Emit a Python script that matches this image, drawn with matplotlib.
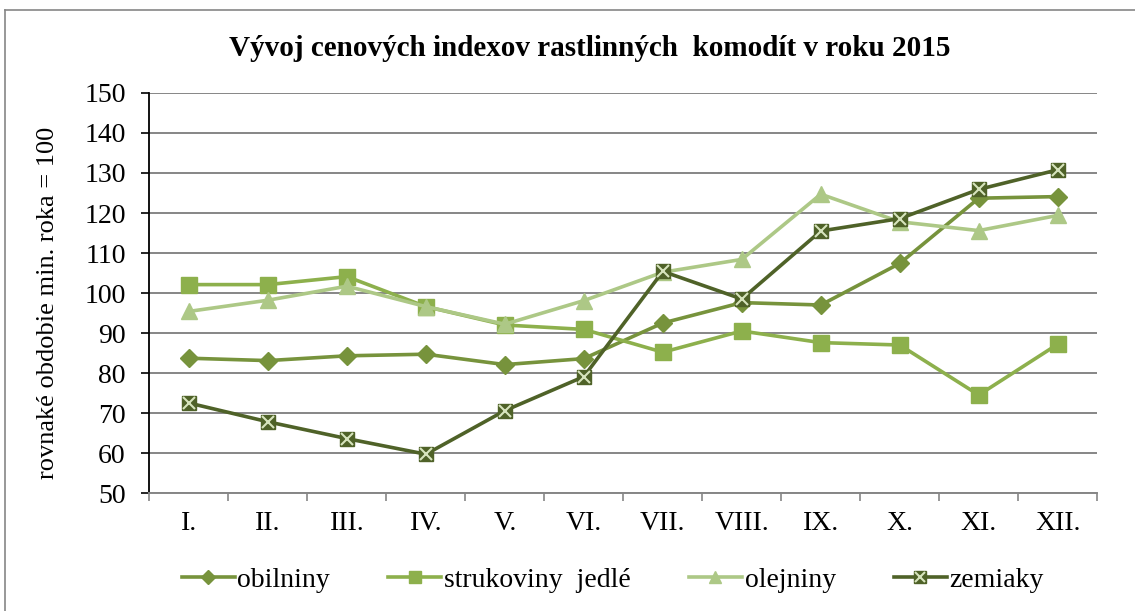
import matplotlib.pyplot as plt
from matplotlib.legend_handler import HandlerTuple
from matplotlib.lines import Line2D
import numpy as np

plt.rcParams['font.family'] = ['Liberation Serif', 'DejaVu Serif']

# Data
months = ['I.', 'II.', 'III.', 'IV.', 'V.', 'VI.', 'VII.', 'VIII.', 'IX.', 'X.', 'XI.', 'XII.']
obilniny = [83.7, 83.1, 84.3, 84.7, 82.1, 83.6, 92.5, 97.6, 97.0, 107.4, 123.7, 124.1]
strukoviny = [102.1, 102.1, 104.1, 96.6, 92.0, 90.9, 85.2, 90.5, 87.6, 87.0, 74.5, 87.2]
olejniny = [95.4, 98.2, 101.7, 96.6, 92.2, 98.1, 105.2, 108.4, 124.7, 117.8, 115.6, 119.4]
zemiaky = [72.5, 67.8, 63.6, 59.7, 70.6, 79.1, 105.4, 98.5, 115.5, 118.6, 125.9, 130.8]

c_obil = '#77933C'
c_struk = '#8DB04C'
c_olej = '#ADC886'
c_zem = '#4F6228'
c_x = '#D7E4BD'

x = np.arange(len(months))

fig = plt.figure(figsize=(11.35, 6.11), dpi=100)
ax = fig.add_axes([0.1317, 0.1931, 0.835, 0.6547])

l1, = ax.plot(x, obilniny, color=c_obil, lw=2.6, marker='D', ms=9, label='obilniny', zorder=3)
l2, = ax.plot(x, strukoviny, color=c_struk, lw=2.6, marker='s', ms=11, label='strukoviny  jedlé', zorder=3)
l3, = ax.plot(x, olejniny, color=c_olej, lw=2.6, marker='^', ms=11.5, label='olejniny', zorder=3)
l4, = ax.plot(x, zemiaky, color=c_zem, lw=2.6, marker='s', ms=10.5, label='zemiaky', zorder=4)
l4x, = ax.plot(x, zemiaky, color=c_x, lw=0, marker='x', ms=9, mew=1.5, zorder=5)

ax.set_xlim(-0.5, len(months) - 0.5)
ax.set_ylim(50, 150)
ax.set_yticks(np.arange(50, 151, 10))
ax.set_xticks(x)
ax.set_xticklabels(months)
ax.set_xticks(np.arange(-0.5, len(months)), minor=True)
ax.tick_params(axis='x', which='major', length=0, pad=13, labelsize=20)
ax.tick_params(axis='x', which='minor', length=6, width=1.2, color='#868686', direction='out')
ax.tick_params(axis='y', length=6, width=1.2, direction='out', labelsize=20, pad=11)

ax.grid(axis='y', color='#868686', lw=1.4)
ax.set_axisbelow(True)
for s in ['top', 'right']:
    ax.spines[s].set_visible(False)
ax.spines['left'].set_linewidth(1.3)
ax.spines['bottom'].set_color('#868686')
ax.spines['bottom'].set_linewidth(1.4)

ax.set_ylabel('rovnaké obdobie min. roka = 100', fontsize=19)
ax.yaxis.set_label_coords(-0.095, 0.475)

fig.text(0.52, 0.92, 'Vývoj cenových indexov rastlinných  komodít v roku 2015',
         ha='center', va='center', fontsize=21, fontweight='bold')

fig.legend([l1, l2, l3, (l4, l4x)], [l1.get_label(), l2.get_label(), l3.get_label(), l4.get_label()],
           handler_map={tuple: HandlerTuple(ndivide=1, pad=0)},
           loc='center', bbox_to_anchor=(0.54, 0.05), ncol=4, frameon=False,
           fontsize=20, handlelength=1.9, handletextpad=0.1, columnspacing=2.1,
           markerscale=0.8)

# outer chart frame
fig.add_artist(Line2D([0.004, 0.004], [0.0, 0.983], color='#868686', lw=1.2))
fig.add_artist(Line2D([0.004, 1.0], [0.983, 0.983], color='#868686', lw=1.2))

fig.savefig('out.png', dpi=100)
